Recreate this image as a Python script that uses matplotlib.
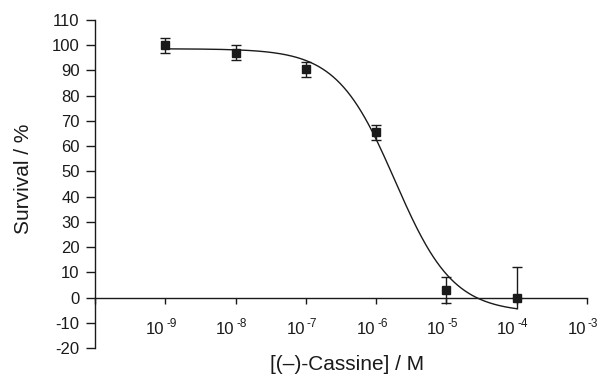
import numpy as np
import matplotlib
matplotlib.use("Agg")
import matplotlib.pyplot as plt
from matplotlib.transforms import offset_copy
from matplotlib.ticker import FixedLocator, NullLocator, NullFormatter

plt.rcParams["font.family"] = ["Liberation Sans", "DejaVu Sans"]
plt.rcParams["axes.unicode_minus"] = False

# measured data
conc = [1e-9, 1e-8, 1e-7, 1e-6, 1e-5, 1e-4]
survival = [100, 97, 90.5, 65.5, 3, 0]
err_low = [3, 3, 3, 3, 5, 4.7]
err_high = [3, 3, 3, 3, 5, 12]

# dose-response fit (4-parameter logistic)
fit_top = 98.6
fit_bottom = -6.0
fit_log_ec50 = -5.73
fit_hill = 1.05

x_ticks = [1e-10, 1e-9, 1e-8, 1e-7, 1e-6, 1e-5, 1e-4, 1e-3]
x_exponents = ["", "-9", "-8", "-7", "-6", "-5", "-4", "-3"]
y_ticks = list(range(-20, 111, 10))

INK = "#1a1a1a"

fig = plt.figure(figsize=(6.05, 3.78), dpi=100)
ax = fig.add_axes([0.157, 0.0794, 0.813, 0.8677])

logx = np.linspace(-9, -4, 300)
fit_y = fit_bottom + (fit_top - fit_bottom) / (1 + 10 ** ((logx - fit_log_ec50) * fit_hill))
ax.plot(10 ** logx, fit_y, color=INK, linewidth=1.0)

# last point: lower bar drawn without a cap
low_capped = err_low[:-1] + [0]
ax.errorbar(conc, survival, yerr=[low_capped, err_high], fmt="s",
            color=INK, markersize=6, capsize=3.5, elinewidth=1.0,
            capthick=1.0)
ax.errorbar(conc[-1:], survival[-1:], yerr=[[err_low[-1]], [0]], fmt="none",
            ecolor=INK, elinewidth=1.0, capsize=0)

ax.set_xscale("log")
ax.set_xlim(1e-10, 1e-3)
ax.set_ylim(-20, 110)

ax.spines["top"].set_visible(False)
ax.spines["right"].set_visible(False)
ax.spines["bottom"].set_position(("data", 0))
for s in ("left", "bottom"):
    ax.spines[s].set_linewidth(1.0)
    ax.spines[s].set_color(INK)

ax.xaxis.set_major_locator(FixedLocator(x_ticks))
ax.xaxis.set_major_formatter(NullFormatter())
ax.xaxis.set_minor_locator(NullLocator())
ax.xaxis.set_minor_formatter(NullFormatter())
ax.set_yticks(y_ticks)

ax.tick_params(axis="x", direction="out", length=4.5, width=1.0, colors=INK)
ax.tick_params(axis="y", direction="out", length=6.5, width=1.0,
               pad=4.5, labelsize=12, colors=INK)

# x tick labels as "10" with a raised exponent
for xt, ex in zip(x_ticks, x_exponents):
    if not ex:
        continue
    base_tr = offset_copy(ax.transData, fig=fig, x=-1, y=-36, units="dots")
    exp_tr = offset_copy(ax.transData, fig=fig, x=1, y=-29, units="dots")
    ax.text(xt, 0, "10", transform=base_tr, ha="right", va="baseline",
            fontsize=12, color=INK)
    ax.text(xt, 0, ex, transform=exp_tr, ha="left", va="baseline",
            fontsize=8.5, color=INK)

ax.set_xlabel("[(–)-Cassine] / M", fontsize=15, color=INK, va="top")
ax.xaxis.set_label_coords(0.513, -0.02)
ax.set_ylabel("Survival / %", fontsize=15, color=INK)
ax.yaxis.set_label_coords(-0.127, 0.517)

fig.savefig("out.png", dpi=100)
